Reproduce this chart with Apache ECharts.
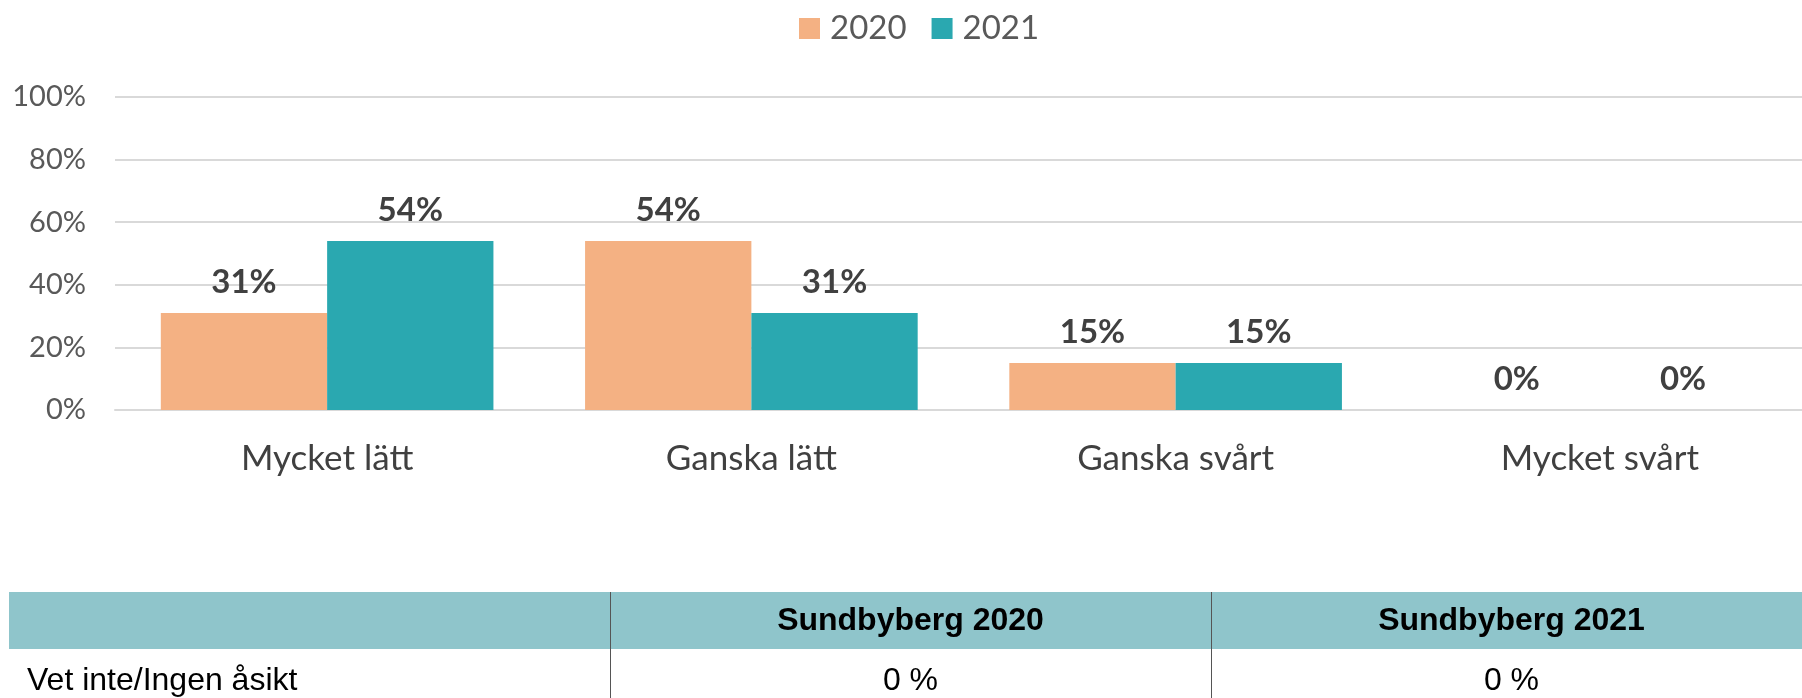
<!DOCTYPE html>
<html>
<head>
<meta charset="utf-8">
<script src="https://cdn.jsdelivr.net/npm/echarts@6/dist/echarts.min.js"></script>
<style>
html,body{margin:0;padding:0;background:#fff;}
#chart{width:1802px;height:698px;}
</style>
</head>
<body>
<div id="chart"></div>
<script>
const categories = ['Mycket lätt', 'Ganska lätt', 'Ganska svårt', 'Mycket svårt'];
const seriesNames = ['2020', '2021'];
const values2020 = [31, 54, 15, 0];
const values2021 = [54, 31, 15, 0];
const yTicks = [0, 20, 40, 60, 80, 100];
const tableHeader = ['', 'Sundbyberg 2020', 'Sundbyberg 2021'];
const tableRow = ['Vet inte/Ingen åsikt', '0 %', '0 %'];

const colors = ['#F4B183', '#2AA8B0'];
const chart = echarts.init(document.getElementById('chart'), null, {renderer: 'canvas'});

// table layout
const tblLeft = 9, tblTop = 592, headH = 57, rowH = 57;
const colX = [9, 610, 1211, 1812];
const graphics = [];
graphics.push({type: 'rect', shape: {x: tblLeft, y: tblTop, width: 1812 - tblLeft, height: headH}, style: {fill: '#8FC5CB'}, silent: true});
for (let i = 1; i < 3; i++) {
  graphics.push({type: 'line', shape: {x1: colX[i] + 0.5, y1: tblTop, x2: colX[i] + 0.5, y2: tblTop + headH + rowH}, style: {stroke: '#555', lineWidth: 1}, silent: true});
}
tableHeader.forEach((t, i) => {
  if (!t) return;
  graphics.push({type: 'text', x: (colX[i] + colX[i + 1]) / 2, y: tblTop + headH / 2 + 1,
    style: {text: t, font: 'bold 32px "Liberation Sans", Arial, sans-serif', fill: '#000', align: 'center', verticalAlign: 'middle'}, silent: true});
});
tableRow.forEach((t, i) => {
  const left = i === 0;
  graphics.push({type: 'text', x: left ? 27 : (colX[i] + colX[i + 1]) / 2, y: tblTop + headH + 32,
    style: {text: t, font: '32px "Liberation Sans", Arial, sans-serif', fill: '#000', align: left ? 'left' : 'center', verticalAlign: 'middle'}, silent: true});
});

const labelStyle = {show: true, position: 'top', distance: 14, formatter: '{c}%',
  fontFamily: 'Lato', fontWeight: 'bold', fontSize: 33, color: '#404040'};

chart.setOption({
  animation: false,
  color: colors,
  textStyle: {fontFamily: 'Lato'},
  legend: {
    data: seriesNames, top: 7, left: 794, icon: 'rect',
    itemWidth: 21, itemHeight: 21, itemGap: 25,
    textStyle: {fontFamily: 'Lato', fontSize: 33, color: '#595959', padding: [0, 0, 0, 5]}
  },
  grid: {left: 115, width: 1697, top: 97, bottom: 288, containLabel: false, outerBoundsMode: 'none'},
  xAxis: {
    type: 'category', data: categories,
    axisLine: {show: true, lineStyle: {color: '#D9D9D9', width: 2}},
    axisTick: {show: false},
    axisLabel: {fontFamily: 'Lato', fontSize: 35, color: '#404040', margin: 31}
  },
  yAxis: {
    type: 'value', min: yTicks[0], max: yTicks[yTicks.length - 1], interval: 20,
    axisLine: {show: false}, axisTick: {show: false},
    splitLine: {lineStyle: {color: '#D9D9D9', width: 2}},
    axisLabel: {formatter: '{value}%', fontFamily: 'Lato', fontSize: 29, color: '#595959', margin: 29}
  },
  series: [
    {name: seriesNames[0], type: 'bar', data: values2020, barGap: '0%', barCategoryGap: '21.6%', label: labelStyle},
    {name: seriesNames[1], type: 'bar', data: values2021, barGap: '0%', barCategoryGap: '21.6%', label: labelStyle}
  ],
  graphic: graphics
});
</script>
</body>
</html>
